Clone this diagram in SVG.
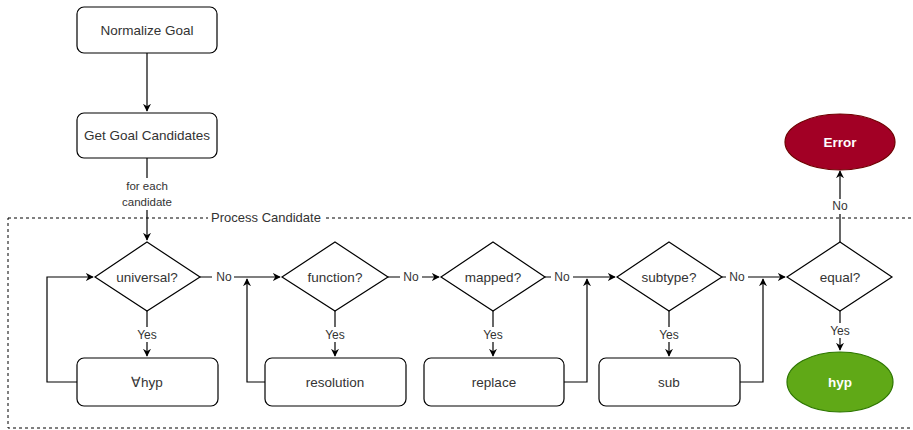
<svg xmlns="http://www.w3.org/2000/svg" width="913" height="430" viewBox="0 0 913 430">
<style>
text{font-family:"Liberation Sans",Arial,sans-serif;fill:#333;}
.n{font-size:13.5px;text-anchor:middle;dominant-baseline:central;}
.l{font-size:12px;text-anchor:middle;dominant-baseline:central;}
.box{fill:#fff;stroke:#000;stroke-width:1.2;}
.c{fill:none;stroke:#000;stroke-width:1.2;}
.w{fill:#fff;font-weight:bold;}
</style>
<defs>
<marker id="a" viewBox="0 0 10 10" refX="9" refY="5" markerWidth="8" markerHeight="8" markerUnits="userSpaceOnUse" orient="auto">
<path d="M0,0 L10,5 L0,10 L3,5 Z" fill="#000"/>
</marker>
</defs>
<g id="container">
<rect x="8" y="218" width="910" height="210" fill="none" stroke="#000" stroke-width="1" stroke-dasharray="3 3"/>
<rect x="208" y="210" width="118" height="16" fill="#fff"/>
<text class="n" x="266" y="217" style="font-size:13px">Process Candidate</text>
</g>
<g id="connectors">
<path class="c" d="M147,53 V111" marker-end="url(#a)"/>
<path class="c" d="M147,158 V240" marker-end="url(#a)"/>
<rect x="112" y="178" width="70" height="32" fill="#fff"/>
<text class="l" x="147" y="186" style="font-size:11.5px">for each</text>
<text class="l" x="147" y="202" style="font-size:11.5px">candidate</text>
<!-- universal -->
<path class="c" d="M200,277 H280" marker-end="url(#a)"/>
<rect x="212" y="270" width="22" height="14" fill="#fff"/>
<text class="l" x="224" y="277">No</text>
<path class="c" d="M147,311 V356" marker-end="url(#a)"/>
<rect x="134" y="327" width="26" height="15" fill="#fff"/>
<text class="l" x="147" y="335">Yes</text>
<path class="c" d="M77,382 H47 V277 H93" marker-end="url(#a)"/>
<!-- function -->
<path class="c" d="M388,277 H439" marker-end="url(#a)"/>
<rect x="400" y="270" width="22" height="14" fill="#fff"/>
<text class="l" x="411" y="277">No</text>
<path class="c" d="M335,311 V356" marker-end="url(#a)"/>
<rect x="322" y="327" width="26" height="15" fill="#fff"/>
<text class="l" x="335" y="335">Yes</text>
<path class="c" d="M265,382 H247 V279" marker-end="url(#a)"/>
<!-- mapped -->
<path class="c" d="M545,277 H615" marker-end="url(#a)"/>
<rect x="551" y="270" width="22" height="14" fill="#fff"/>
<text class="l" x="562" y="277">No</text>
<path class="c" d="M493,311 V356" marker-end="url(#a)"/>
<rect x="480" y="327" width="26" height="15" fill="#fff"/>
<text class="l" x="493" y="335">Yes</text>
<path class="c" d="M564,382 H587 V279" marker-end="url(#a)"/>
<!-- subtype -->
<path class="c" d="M722,277 H785" marker-end="url(#a)"/>
<rect x="726" y="270" width="22" height="14" fill="#fff"/>
<text class="l" x="737" y="277">No</text>
<path class="c" d="M669,311 V356" marker-end="url(#a)"/>
<rect x="656" y="327" width="26" height="15" fill="#fff"/>
<text class="l" x="669" y="335">Yes</text>
<path class="c" d="M740,382 H763 V279" marker-end="url(#a)"/>
<!-- equal -->
<path class="c" d="M840,242 V171" marker-end="url(#a)"/>
<rect x="829" y="199" width="22" height="15" fill="#fff"/>
<text class="l" x="840" y="206">No</text>
<path class="c" d="M840,311 V350" marker-end="url(#a)"/>
<rect x="827" y="323" width="26" height="15" fill="#fff"/>
<text class="l" x="840" y="331">Yes</text>
</g>
<g id="normalize"><rect class="box" x="77" y="7" width="140" height="46" rx="7"/><text class="n" x="147" y="30">Normalize Goal</text></g>
<g id="candidates"><rect class="box" x="77" y="113" width="140" height="45" rx="7"/><text class="n" x="147" y="135.5">Get Goal Candidates</text></g>
<g id="universal"><polygon class="box" points="147,242 200,277 147,311 95,277"/><text class="n" x="147" y="277">universal?</text></g>
<g id="function"><polygon class="box" points="335,242 388,277 335,311 282,277"/><text class="n" x="335" y="277">function?</text></g>
<g id="mapped"><polygon class="box" points="493,242 545,277 493,311 441,277"/><text class="n" x="493" y="277">mapped?</text></g>
<g id="subtype"><polygon class="box" points="669,242 722,277 669,311 617,277"/><text class="n" x="669" y="277">subtype?</text></g>
<g id="equal"><polygon class="box" points="840,242 892,277 840,311 787,277"/><text class="n" x="840" y="277">equal?</text></g>
<g id="forallhyp"><rect class="box" x="77" y="358" width="141" height="48" rx="7"/><text class="n" x="147" y="382">∀hyp</text></g>
<g id="resolution"><rect class="box" x="265" y="358" width="141" height="48" rx="7"/><text class="n" x="335" y="382">resolution</text></g>
<g id="replace"><rect class="box" x="424" y="358" width="140" height="48" rx="7"/><text class="n" x="494" y="382">replace</text></g>
<g id="sub"><rect class="box" x="599" y="358" width="141" height="48" rx="7"/><text class="n" x="669" y="382">sub</text></g>
<g id="hyp"><ellipse cx="840" cy="382" rx="53" ry="30" fill="#60a917" stroke="#2d7600" stroke-width="1.2"/><text class="n w" x="840" y="382">hyp</text></g>
<g id="error"><ellipse cx="840" cy="142" rx="55" ry="28" fill="#a20025" stroke="#6f0000" stroke-width="1.2"/><text class="n w" x="840" y="142">Error</text></g>
</svg>
